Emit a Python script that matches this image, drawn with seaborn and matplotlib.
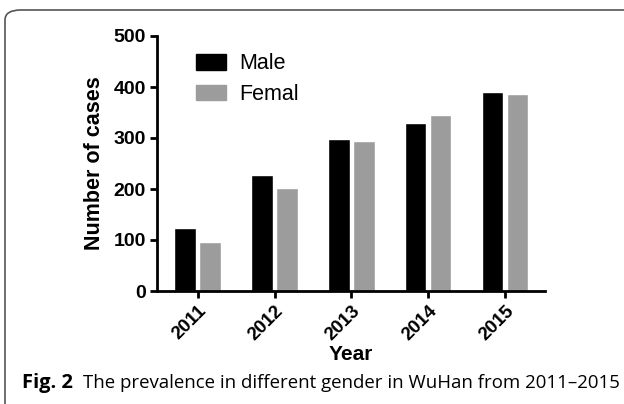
import matplotlib
matplotlib.use('Agg')
import matplotlib.pyplot as plt
from matplotlib.patches import FancyBboxPatch, Patch
import seaborn as sns
import pandas as pd

YEARS = ['2011', '2012', '2013', '2014', '2015']
MALE = [124, 228, 299, 329, 391]
FEMALE = [97, 201, 295, 346, 387]
GROUPS = ['Male', 'Femal']
COLORS = ['#000000', '#9c9c9c']

df = pd.DataFrame({
    'Year': YEARS * 2,
    'Cases': MALE + FEMALE,
    'Gender': ['Male'] * len(YEARS) + ['Femal'] * len(YEARS),
})

sns.set_style('white')
plt.rcParams['font.family'] = ['Liberation Sans', 'DejaVu Sans']
for k in ['text.color', 'axes.labelcolor', 'xtick.color', 'ytick.color']:
    plt.rcParams[k] = 'black'

fig = plt.figure(figsize=(6.24, 4.04), dpi=100)
ax = fig.add_axes([157 / 624, 1 - 291 / 404, 388 / 624, 255 / 404])

sns.barplot(data=df, x='Year', y='Cases', hue='Gender', hue_order=GROUPS,
            palette=COLORS, width=0.65, gap=0.14, ax=ax, legend=False)

ax.set_xlim(-0.53, 4.52)
ax.set_ylim(0, 500)
ax.set_yticks(range(0, 501, 100))
sns.despine(ax=ax)
for s in ['left', 'bottom']:
    ax.spines[s].set_linewidth(2)
    ax.spines[s].set_color('black')
ax.tick_params(axis='both', direction='out', length=5, width=2, color='black',
               labelsize=14, left=True, bottom=True, pad=3)
for lab in ax.get_yticklabels():
    lab.set_fontweight('bold')
ax.set_xticks(range(len(YEARS)))
ax.set_xticklabels(YEARS, rotation=45, ha='right', rotation_mode='anchor',
                   fontweight='bold', fontsize=13.5)

ax.set_ylabel('Number of cases', fontsize=15.5, fontweight='bold')
ax.set_xlabel('Year', fontsize=15, fontweight='bold')
ax.yaxis.set_label_coords(-0.134, 0.5)
ax.xaxis.set_label_coords(0.5, -0.212)

handles = [Patch(facecolor=c, edgecolor=c) for c in COLORS]
ax.legend(handles, GROUPS, loc='upper left', bbox_to_anchor=(0.05, 1.008),
          frameon=False, fontsize=15.5, handlelength=1.4, handleheight=0.75,
          labelspacing=0.45, handletextpad=0.6)

# caption and frame
cap_y = 1 - 383 / 404
fig.text(22 / 624, cap_y, 'Fig. 2', fontsize=14.5, fontweight='bold',
         family='Open Sans', va='center', ha='left')
fig.text(83 / 624, cap_y,
         'The prevalence in different gender in WuHan from 2011\u20132015',
         fontsize=13.4, family='Open Sans', va='center', ha='left')

frame = FancyBboxPatch((5 / 624, -10 / 404), 640 / 624, 404 / 404,
                       boxstyle='round,pad=0,rounding_size=0.025',
                       transform=fig.transFigure, fill=False,
                       edgecolor='#555555', linewidth=1.2, clip_on=False)
fig.patches.append(frame)

fig.savefig('out.png', dpi=100)
